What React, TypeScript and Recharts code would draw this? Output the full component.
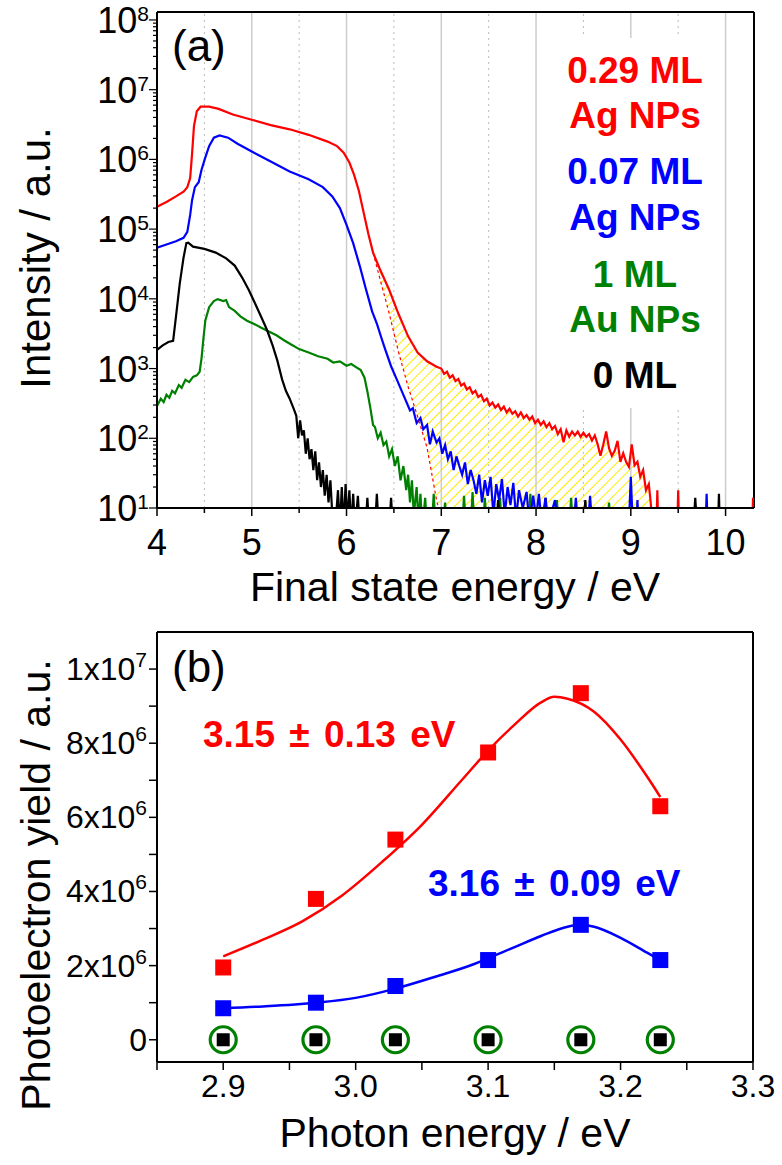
import React from "react";
import { Area, ComposedChart, Line, ReferenceLine, Scatter, XAxis, YAxis } from "recharts";

const FONT = "'Liberation Sans', Arial, sans-serif";

// ---- panel (a): photoemission spectra, [final state energy eV, intensity] ----
const red029: [number, number][] = [
  [4.0, 2.1e5], [4.1, 2.45e5], [4.2, 2.95e5], [4.28, 3.45e5], [4.32, 4.0e5], [4.35, 5.4e5],
  [4.37, 1.2e6], [4.39, 3.0e6], [4.42, 4.9e6], [4.46, 5.7e6], [4.55, 5.7e6], [4.65, 5.3e6],
  [4.8, 4.4e6], [5.0, 3.7e6], [5.2, 3.1e6], [5.4, 2.7e6], [5.6, 2.25e6], [5.8, 1.8e6],
  [5.9, 1.55e6], [5.97, 1.25e6], [6.03, 9.0e5], [6.08, 6.0e5], [6.13, 3.55e5], [6.18, 1.75e5],
  [6.23, 8.6e4], [6.28, 4.6e4], [6.35, 2.7e4], [6.45, 1.35e4], [6.55, 6.0e3], [6.65, 2.9e3],
  [6.75, 1.7e3], [6.85, 1.27e3], [6.95, 1.06e3], [7.0, 1.0e3], [7.03, 8.4e2], [7.06, 9.0e2],
  [7.09, 7.4e2], [7.12, 8.0e2], [7.15, 6.6e2], [7.18, 7.1e2], [7.21, 5.7e2], [7.24, 6.1e2],
  [7.27, 5.0e2], [7.3, 5.4e2], [7.33, 4.4e2], [7.36, 4.8e2], [7.39, 3.9e2], [7.42, 4.2e2],
  [7.45, 3.4e2], [7.48, 3.7e2], [7.51, 2.95e2], [7.54, 3.25e2], [7.57, 2.75e2], [7.6, 3.05e2],
  [7.63, 2.55e2], [7.66, 2.85e2], [7.69, 2.35e2], [7.72, 2.65e2], [7.75, 2.25e2], [7.78, 2.45e2],
  [7.81, 2.05e2], [7.84, 2.35e2], [7.87, 1.95e2], [7.9, 2.15e2], [7.93, 1.85e2], [7.96, 2.05e2],
  [7.99, 1.65e2], [8.02, 1.85e2], [8.05, 1.55e2], [8.08, 1.75e2], [8.11, 1.45e2], [8.14, 1.65e2],
  [8.17, 1.35e2], [8.2, 1.5e2], [8.23, 1.15e2], [8.26, 1.35e2], [8.29, 8.8e1], [8.32, 1.3e2],
  [8.35, 1.05e2], [8.38, 1.25e2], [8.41, 1.1e2], [8.44, 1.25e2], [8.47, 1.05e2], [8.5, 1.2e2],
  [8.53, 1.05e2], [8.56, 1.15e2], [8.59, 9.3e1], [8.62, 1.1e2], [8.65, 8.2e1], [8.68, 5.6e1],
  [8.71, 8.2e1], [8.74, 1.25e2], [8.77, 7.2e1], [8.8, 5.6e1], [8.83, 6.6e1], [8.86, 9.2e1],
  [8.89, 4.6e1], [8.92, 6.1e1], [8.95, 4.6e1], [8.98, 3.9e1], [9.01, 8.2e1], [9.04, 4.1e1],
  [9.07, 4.6e1], [9.1, 2.8e1], [9.13, 3.5e1], [9.16, 1.8e1], [9.19, 2.2e1], [9.21, 1.2e1],
  [9.23, 5], [9.27, 5], [9.28, 1.8e1], [9.29, 5], [9.49, 5], [9.5, 1.8e1], [9.51, 5],
  [10.28, 5], [10.29, 1.4e1], [10.3, 5],
];

const redExtrap: [number, number][] = [
  [6.28, 4.6e4], [6.35, 2.0e4], [6.45, 6.2e3], [6.55, 1.7e3], [6.65, 5.5e2],
  [6.75, 2.05e2], [6.85, 7.3e1], [6.95, 1.3e1], [6.97, 1.0e1],
];

const blue007: [number, number][] = [
  [4.0, 5.4e4], [4.1, 6.0e4], [4.2, 6.7e4], [4.28, 7.5e4], [4.32, 9.1e4], [4.35, 1.6e5],
  [4.37, 2.6e5], [4.4, 4.0e5], [4.44, 4.7e5], [4.47, 7.1e5], [4.51, 1.07e6], [4.55, 1.55e6],
  [4.6, 2.05e6], [4.66, 2.2e6], [4.75, 2.05e6], [4.85, 1.68e6], [5.0, 1.3e6], [5.2, 9.3e5],
  [5.4, 6.7e5], [5.6, 5.2e5], [5.75, 4.0e5], [5.85, 2.95e5], [5.93, 2.0e5], [6.0, 1.15e5],
  [6.07, 6.3e4], [6.14, 2.95e4], [6.2, 1.45e4], [6.27, 6.6e3], [6.32, 4.4e3], [6.37, 2.7e3],
  [6.41, 1.85e3], [6.47, 1.08e3], [6.53, 7.0e2], [6.6, 4.2e2], [6.67, 2.5e2], [6.7, 2.7e2],
  [6.74, 1.65e2], [6.78, 1.95e2], [6.81, 1.35e2], [6.85, 1.55e2], [6.88, 8.2e1], [6.91, 1.25e2],
  [6.95, 8.7e1], [6.98, 1.0e2], [7.01, 6.0e1], [7.04, 8.0e1], [7.07, 5.0e1], [7.1, 6.5e1],
  [7.13, 3.5e1], [7.16, 5.5e1], [7.19, 4.0e1], [7.22, 3.0e1], [7.25, 4.5e1], [7.28, 2.2e1],
  [7.31, 3.5e1], [7.34, 2.5e1], [7.37, 1.6e1], [7.4, 3.0e1], [7.43, 1.2e1], [7.46, 2.5e1],
  [7.49, 1.5e1], [7.52, 2.8e1], [7.55, 8], [7.58, 2.2e1], [7.61, 1.3e1], [7.64, 2.6e1],
  [7.67, 8], [7.7, 2.0e1], [7.73, 1.1e1], [7.76, 2.3e1], [7.79, 7], [7.82, 1.8e1],
  [7.86, 1.0e1], [7.9, 1.7e1], [7.93, 6], [7.97, 1.5e1], [8.0, 7], [8.03, 1.6e1],
  [8.06, 6], [8.1, 1.4e1], [8.13, 6], [8.2, 1.3e1], [8.23, 6], [8.4, 6], [8.42, 1.4e1],
  [8.44, 6], [8.55, 6], [8.57, 1.5e1], [8.59, 6], [8.98, 6], [9.0, 2.8e1], [9.02, 6],
  [9.06, 6], [9.07, 1.3e1], [9.08, 6], [9.79, 6], [9.8, 1.6e1], [9.81, 6], [10.3, 6],
];

const green1Au: [number, number][] = [
  [4.0, 2.9e2], [4.04, 3.7e2], [4.07, 3.3e2], [4.1, 4.2e2], [4.13, 3.8e2], [4.16, 4.8e2],
  [4.19, 4.4e2], [4.23, 5.8e2], [4.26, 5.3e2], [4.3, 6.9e2], [4.34, 6.4e2], [4.38, 7.6e2],
  [4.42, 8.0e2], [4.45, 9.0e2], [4.47, 1.4e3], [4.49, 2.7e3], [4.51, 4.9e3], [4.55, 7.6e3],
  [4.6, 9.3e3], [4.64, 9.9e3], [4.7, 9.3e3], [4.73, 9.6e3], [4.76, 7.6e3], [4.82, 6.7e3],
  [4.88, 5.6e3], [4.95, 4.85e3], [5.02, 4.4e3], [5.1, 3.85e3], [5.18, 3.4e3], [5.26, 3.0e3],
  [5.34, 2.55e3], [5.42, 2.2e3], [5.5, 1.9e3], [5.6, 1.7e3], [5.7, 1.5e3], [5.8, 1.38e3],
  [5.86, 1.22e3], [5.93, 1.27e3], [6.0, 1.1e3], [6.05, 1.16e3], [6.1, 1.05e3], [6.15, 9.5e2],
  [6.19, 7.4e2], [6.22, 4.7e2], [6.25, 2.8e2], [6.28, 1.55e2], [6.3, 1.45e2], [6.33, 1.0e2],
  [6.36, 1.2e2], [6.39, 8.0e1], [6.42, 9.0e1], [6.45, 5.5e1], [6.48, 7.0e1], [6.51, 4.0e1],
  [6.54, 5.5e1], [6.57, 2.5e1], [6.6, 4.0e1], [6.63, 1.8e1], [6.65, 3.0e1], [6.67, 1.2e1],
  [6.69, 2.5e1], [6.71, 8], [6.74, 2.0e1], [6.76, 6], [6.78, 1.6e1], [6.8, 5], [6.83, 1.4e1],
  [6.85, 5], [6.9, 5], [6.92, 1.6e1], [6.94, 5], [7.02, 5], [7.04, 1.2e1], [7.06, 5],
  [7.22, 5], [7.24, 1.5e1], [7.26, 5], [7.31, 5], [7.33, 1.7e1], [7.35, 5], [7.44, 5],
  [7.46, 1.4e1], [7.48, 5], [7.6, 5], [7.62, 1.4e1], [7.64, 5], [7.92, 5], [7.94, 1.6e1],
  [7.96, 5], [8.2, 5], [8.22, 1.3e1], [8.24, 5], [8.35, 5], [8.37, 1.4e1], [8.39, 5],
  [8.75, 5], [8.77, 1.2e1], [8.79, 5], [10.3, 5],
];

const black0: [number, number][] = [
  [4.0, 1.85e3], [4.06, 2.15e3], [4.12, 2.4e3], [4.17, 2.5e3], [4.2, 5.5e3], [4.24, 1.65e4],
  [4.28, 3.9e4], [4.31, 6.3e4], [4.33, 6.4e4], [4.38, 5.6e4], [4.5, 5.2e4], [4.62, 4.6e4],
  [4.73, 3.8e4], [4.82, 3.0e4], [4.9, 2.0e4], [4.97, 1.33e4], [5.04, 8.3e3], [5.1, 5.5e3],
  [5.16, 3.6e3], [5.22, 2.15e3], [5.27, 1.3e3], [5.32, 7.0e2], [5.36, 4.8e2], [5.4, 3.7e2],
  [5.44, 2.7e2], [5.47, 2.1e2], [5.49, 1.0e2], [5.51, 1.8e2], [5.53, 1.1e2], [5.55, 1.3e2],
  [5.57, 6.0e1], [5.59, 1.0e2], [5.61, 5.0e1], [5.63, 7.0e1], [5.65, 3.5e1], [5.67, 6.5e1],
  [5.69, 2.5e1], [5.71, 4.5e1], [5.73, 2.0e1], [5.75, 3.5e1], [5.77, 1.5e1], [5.79, 3.0e1],
  [5.81, 1.2e1], [5.83, 2.5e1], [5.85, 8], [5.88, 5], [5.91, 1.8e1], [5.93, 5], [5.95, 2.0e1],
  [5.97, 5], [5.99, 2.2e1], [6.01, 6], [6.03, 1.8e1], [6.05, 5], [6.07, 1.6e1], [6.09, 5],
  [6.12, 1.5e1], [6.14, 5], [6.2, 5], [6.22, 1.4e1], [6.24, 5], [6.3, 5], [6.32, 1.6e1],
  [6.34, 5], [6.45, 5], [6.47, 1.4e1], [6.49, 5], [7.58, 5], [7.6, 1.3e1], [7.62, 5],
  [8.08, 5], [8.1, 1.4e1], [8.12, 5], [8.5, 5], [8.52, 1.3e1], [8.54, 5], [9.66, 5],
  [9.68, 1.4e1], [9.7, 5], [9.92, 5], [9.93, 1.6e1], [9.94, 5], [10.3, 5],
];

const xTicksA = [4, 4.5, 5, 5.5, 6, 6.5, 7, 7.5, 8, 8.5, 9, 9.5, 10];
const gridSolidA = [5, 6, 7, 8, 9, 10];
const gridDottedA = [4.5, 5.5, 6.5, 7.5, 8.5, 9.5];
const decadesA = [1, 2, 3, 4, 5, 6, 7];
const yTicksA = [
  ...decadesA.flatMap((d) => [1, 2, 3, 4, 5, 6, 7, 8, 9].map((m) => m * 10 ** d)),
  1e8,
];

// ---- panel (b): photoelectron yield vs photon energy ----
const photonE = [2.9, 2.97, 3.03, 3.1, 3.17, 3.23];
const yield029 = [1.95e6, 3.8e6, 5.4e6, 7.75e6, 9.35e6, 6.3e6];
const yield007 = [0.85e6, 1.0e6, 1.45e6, 2.15e6, 3.1e6, 2.15e6];
const yield0 = [0, 0, 0, 0, 0, 0];

const fitE029 = [2.9, 2.93, 2.96, 2.99, 3.02, 3.05, 3.08, 3.1, 3.12, 3.14, 3.15, 3.16, 3.18, 3.2, 3.22, 3.23];
const fitY029 = [2.25e6, 2.7e6, 3.2e6, 3.9e6, 4.8e6, 5.8e6, 7.0e6, 7.8e6, 8.5e6, 9.1e6, 9.25e6, 9.2e6, 8.85e6, 8.1e6, 7.1e6, 6.55e6];
const fitE007 = [2.9, 2.93, 2.97, 3.0, 3.03, 3.06, 3.09, 3.1, 3.12, 3.14, 3.16, 3.17, 3.18, 3.2, 3.22, 3.23];
const fitY007 = [0.85e6, 0.9e6, 1.0e6, 1.13e6, 1.38e6, 1.7e6, 2.05e6, 2.2e6, 2.5e6, 2.8e6, 3.05e6, 3.1e6, 3.05e6, 2.75e6, 2.35e6, 2.15e6];

const xTicksB = [2.85, 2.9, 2.95, 3.0, 3.05, 3.1, 3.15, 3.2, 3.25, 3.3];
const xLabelsB = [2.9, 3.0, 3.1, 3.2, 3.3];
const yTicksB = [0, 1e6, 2e6, 3e6, 4e6, 5e6, 6e6, 7e6, 8e6, 9e6, 1e7];

const rowsOf = (pairs: [number, number][]) => pairs.map(([e, i]) => ({ e, i }));
const zip = (xs: number[], ys: number[]) => xs.map((e, k) => ({ e, y: ys[k] }));

const extrapMap = new Map(redExtrap);
const hatchRows = red029
  .filter(([e]) => e >= 6.28 && e <= 9.21)
  .map(([e, i]) => ({ e, range: [extrapMap.get(e) ?? 10, i] }));

function XTickA({ x, y, payload }: any) {
  const v = payload.value;
  const major = Number.isInteger(v);
  return (
    <g>
      <line x1={x} x2={x} y1={y} y2={y + (major ? 8 : 5)} stroke="#000" strokeWidth={1.5} />
      {major && (
        <text x={x} y={y + 47} textAnchor="middle" fontSize={36} fontFamily={FONT} fill="#000">
          {v}
        </text>
      )}
    </g>
  );
}

function YTickA({ x, y, payload }: any) {
  const v = payload.value;
  const exp = Math.log10(v);
  const major = Math.abs(exp - Math.round(exp)) < 1e-6;
  return (
    <g>
      <line x1={x} x2={x - (major ? 8 : 4)} y1={y} y2={y} stroke="#000" strokeWidth={1.2} />
      {major && (
        <text x={x - 8} y={y + 13} textAnchor="end" fontSize={36} fontFamily={FONT} fill="#000">
          10
          <tspan dy={-12} fontSize={21}>
            {Math.round(exp)}
          </tspan>
        </text>
      )}
    </g>
  );
}

function XTickB({ x, y, payload }: any) {
  const v = payload.value;
  const major = xLabelsB.some((t) => Math.abs(t - v) < 1e-6);
  return (
    <g>
      <line x1={x} x2={x} y1={y} y2={y + 8} stroke="#000" strokeWidth={1.5} />
      {major && (
        <text x={x} y={y + 35} textAnchor="middle" fontSize={32} fontFamily={FONT} fill="#000">
          {v.toFixed(1)}
        </text>
      )}
    </g>
  );
}

function YTickB({ x, y, payload }: any) {
  const v = payload.value;
  const labelled = v % 2e6 === 0;
  let label: React.ReactNode = "0";
  if (v !== 0) {
    const exp = Math.floor(Math.log10(v) + 1e-9);
    const m = Math.round(v / 10 ** exp);
    label = (
      <>
        {m}x10
        <tspan dy={-13} fontSize={21}>
          {exp}
        </tspan>
      </>
    );
  }
  return (
    <g>
      <line x1={x} x2={x - 8} y1={y} y2={y} stroke="#000" strokeWidth={1.5} />
      {labelled && (
        <text x={x - 10} y={y + 11} textAnchor="end" fontSize={32} fontFamily={FONT} fill="#000">
          {label}
        </text>
      )}
    </g>
  );
}

const squareShape = (color: string, s: number) => (p: any) => (
  <rect x={p.cx - s / 2} y={p.cy - s / 2} width={s} height={s} fill={color} />
);

const zeroShape = (p: any) => (
  <g>
    <circle cx={p.cx} cy={p.cy} r={13} fill="none" stroke="#008000" strokeWidth={3.2} />
    <rect x={p.cx - 6.5} y={p.cy - 6.5} width={13} height={13} fill="#000" />
  </g>
);

const legendA = [
  { text: "0.29 ML", color: "#ff0000", y: 83 },
  { text: "Ag NPs", color: "#ff0000", y: 128 },
  { text: "0.07 ML", color: "#0000ff", y: 184 },
  { text: "Ag NPs", color: "#0000ff", y: 230 },
  { text: "1 ML", color: "#008000", y: 287 },
  { text: "Au NPs", color: "#008000", y: 332 },
  { text: "0 ML", color: "#000000", y: 388 },
];

export default function App() {
  return (
    <div style={{ position: "absolute", left: 0, top: 0, width: 782, height: 1165, background: "#fff" }}>
      <div style={{ position: "absolute", left: 0, top: 0 }}>
        <ComposedChart width={782} height={620} margin={{ top: 12, right: 28, bottom: 20, left: 0 }}>
          <defs>
            <pattern id="hatch" patternUnits="userSpaceOnUse" width={7} height={7} patternTransform="rotate(45)">
              <line x1={0} y1={0} x2={0} y2={7} stroke="#ffea00" strokeWidth={2} />
            </pattern>
          </defs>
          <XAxis
            type="number"
            dataKey="e"
            domain={[4, 10.3]}
            ticks={xTicksA}
            interval={0}
            allowDataOverflow
            tickLine={false}
            tickSize={0}
            tickMargin={0}
            tick={<XTickA />}
            axisLine={{ stroke: "#000", strokeWidth: 2 }}
            height={92}
          />
          <YAxis
            type="number"
            scale="log"
            domain={[10, 1.3e8]}
            ticks={yTicksA}
            interval={0}
            allowDataOverflow
            tickLine={false}
            tickSize={0}
            tickMargin={0}
            tick={<YTickA />}
            axisLine={{ stroke: "#000", strokeWidth: 2 }}
            width={157}
          />
          {gridSolidA.map((v) => (
            <ReferenceLine key={`gs${v}`} x={v} stroke="#cccccc" strokeWidth={1.5} />
          ))}
          {gridDottedA.map((v) => (
            <ReferenceLine key={`gd${v}`} x={v} stroke="#bbbbbb" strokeWidth={1} strokeDasharray="2 4" />
          ))}
          <ReferenceLine y={1.3e8} stroke="#000" strokeWidth={2} />
          <ReferenceLine x={10.3} stroke="#000" strokeWidth={2} />
          <Area
            data={hatchRows}
            dataKey="range"
            stroke="none"
            fill="url(#hatch)"
            fillOpacity={1}
            isAnimationActive={false}
          />
          <Line data={rowsOf(green1Au)} dataKey="i" stroke="#008000" strokeWidth={2.2} dot={false} isAnimationActive={false} />
          <Line data={rowsOf(black0)} dataKey="i" stroke="#000" strokeWidth={2.2} dot={false} isAnimationActive={false} />
          <Line data={rowsOf(blue007)} dataKey="i" stroke="#0000ff" strokeWidth={2.2} dot={false} isAnimationActive={false} />
          <Line data={rowsOf(red029)} dataKey="i" stroke="#ff0000" strokeWidth={2.2} dot={false} isAnimationActive={false} />
          <Line
            data={rowsOf(redExtrap)}
            dataKey="i"
            stroke="#ff0000"
            strokeWidth={1.2}
            strokeDasharray="3 3"
            dot={false}
            isAnimationActive={false}
          />
        </ComposedChart>
      </div>

      <div style={{ position: "absolute", left: 0, top: 620 }}>
        <ComposedChart width={782} height={545} margin={{ top: 12, right: 29, bottom: 0, left: 0 }}>
          <XAxis
            type="number"
            dataKey="e"
            domain={[2.85, 3.3]}
            ticks={xTicksB}
            interval={0}
            allowDataOverflow
            tickLine={false}
            tickSize={0}
            tickMargin={0}
            tick={<XTickB />}
            axisLine={{ stroke: "#000", strokeWidth: 2 }}
            height={103}
          />
          <YAxis
            type="number"
            dataKey="y"
            domain={[-6e5, 1.1e7]}
            ticks={yTicksB}
            interval={0}
            allowDataOverflow
            tickLine={false}
            tickSize={0}
            tickMargin={0}
            tick={<YTickB />}
            axisLine={{ stroke: "#000", strokeWidth: 2 }}
            width={157}
          />
          <ReferenceLine y={1.1e7} stroke="#000" strokeWidth={2} />
          <ReferenceLine x={3.3} stroke="#000" strokeWidth={2} />
          <Line data={zip(fitE029, fitY029)} dataKey="y" type="monotone" stroke="#ff0000" strokeWidth={2.5} dot={false} isAnimationActive={false} />
          <Line data={zip(fitE007, fitY007)} dataKey="y" type="monotone" stroke="#0000ff" strokeWidth={2.5} dot={false} isAnimationActive={false} />
          <Scatter data={zip(photonE, yield029)} dataKey="y" shape={squareShape("#ff0000", 16)} isAnimationActive={false} />
          <Scatter data={zip(photonE, yield007)} dataKey="y" shape={squareShape("#0000ff", 16)} isAnimationActive={false} />
          <Scatter data={zip(photonE, yield0)} dataKey="y" shape={zeroShape} isAnimationActive={false} />
        </ComposedChart>
      </div>

      <svg
        width={782}
        height={1165}
        style={{ position: "absolute", left: 0, top: 0, pointerEvents: "none" }}
        fontFamily={FONT}
      >
        <text x={172} y={61} fontSize={44} fill="#000">(a)</text>
        <rect x={566} y={38} width={140} height={370} fill="#fff" />
        {legendA.map((l, k) => (
          <text key={k} x={635} y={l.y} textAnchor="middle" fontSize={37} fontWeight="bold" fill={l.color}>
            {l.text}
          </text>
        ))}
        <text x={455} y={601} textAnchor="middle" fontSize={41} fill="#000">Final state energy / eV</text>
        <text x={50} y={258} textAnchor="middle" fontSize={42} fill="#000" transform="rotate(-90 50 258)">
          Intensity / a.u.
        </text>

        <text x={172} y={682} fontSize={44} fill="#000">(b)</text>
        <text x={203} y={747} fontSize={37} fontWeight="bold" fill="#ff0000" wordSpacing={4}>3.15 ± 0.13 eV</text>
        <text x={428} y={896} fontSize={37} fontWeight="bold" fill="#0000ff" wordSpacing={4}>3.16 ± 0.09 eV</text>
        <text x={455} y={1147} textAnchor="middle" fontSize={41} fill="#000">Photon energy / eV</text>
        <text x={50} y={885} textAnchor="middle" fontSize={41} fill="#000" transform="rotate(-90 50 885)">
          Photoelectron yield / a.u.
        </text>
      </svg>
    </div>
  );
}
